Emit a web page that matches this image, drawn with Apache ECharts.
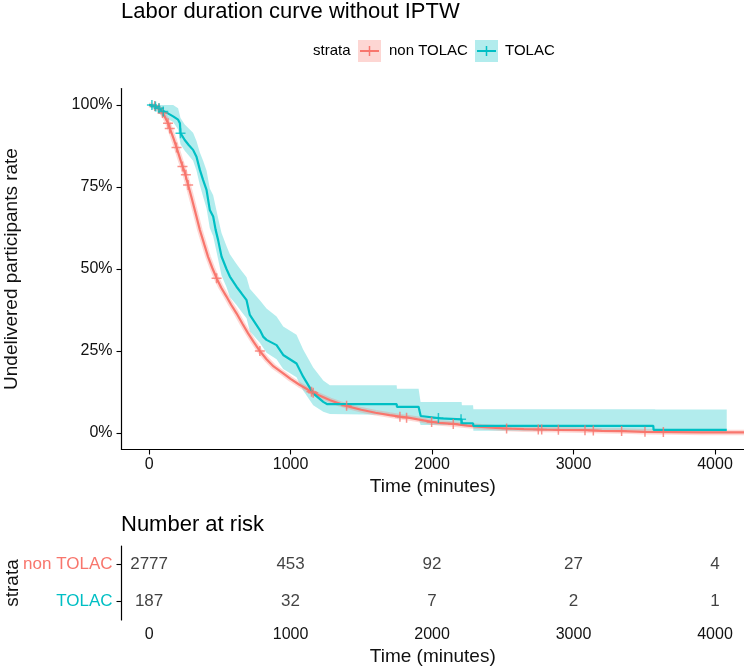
<!DOCTYPE html>
<html>
<head>
<meta charset="utf-8">
<script src="https://cdn.jsdelivr.net/npm/echarts@6/dist/echarts.min.js"></script>
<style>
    html, body { margin: 0; padding: 0; background: #fff; }
    #main { width: 744px; height: 668px; }
</style>
</head>
<body>
<div id="main"></div>
<script>
// survival curves, [time, rate]
var nonTolacCurve = [
    [0, 1.000], [40, 0.997], [80, 0.985], [110, 0.965], [134, 0.944], [150, 0.925],
    [175, 0.895], [200, 0.862], [225, 0.828], [250, 0.797], [276, 0.756], [300, 0.718],
    [330, 0.668], [359, 0.619], [390, 0.575], [417, 0.537], [447, 0.503], [477, 0.472],
    [510, 0.443], [547, 0.416], [580, 0.391], [618, 0.365], [660, 0.333], [700, 0.304],
    [740, 0.277], [783, 0.250], [830, 0.225], [880, 0.203], [948, 0.182], [1000, 0.165],
    [1060, 0.148], [1100, 0.138], [1148, 0.126], [1200, 0.115], [1280, 0.100], [1350, 0.089],
    [1419, 0.080], [1500, 0.071], [1600, 0.062], [1700, 0.055], [1773, 0.050], [1832, 0.047],
    [1900, 0.042], [1997, 0.034], [2050, 0.031], [2150, 0.028], [2250, 0.023], [2350, 0.019],
    [2450, 0.016], [2527, 0.014], [2650, 0.012], [2763, 0.011], [2900, 0.010], [3081, 0.009],
    [3200, 0.007], [3340, 0.006], [3505, 0.004], [3700, 0.003], [3900, 0.002], [4205, 0.002]
];
var tolacCurve = [
    [0, 1.000], [40, 0.995], [90, 0.984], [130, 0.975], [170, 0.965], [205, 0.955],
    [218, 0.944], [222, 0.914], [252, 0.893], [280, 0.878], [311, 0.863], [335, 0.842],
    [359, 0.802], [382, 0.771], [406, 0.741], [429, 0.680], [453, 0.660], [470, 0.620],
    [488, 0.588], [512, 0.538], [547, 0.500], [571, 0.477], [618, 0.446], [653, 0.426],
    [689, 0.405], [712, 0.360], [783, 0.314], [806, 0.294], [830, 0.284], [901, 0.268],
    [948, 0.238], [1042, 0.212], [1089, 0.172], [1160, 0.121], [1231, 0.095], [1260, 0.088],
    [1750, 0.088], [1752, 0.080], [1905, 0.080], [1910, 0.070], [1917, 0.070], [1920, 0.052],
    [2060, 0.045], [2209, 0.042], [2211, 0.030], [2290, 0.030], [2292, 0.022], [3564, 0.022],
    [3566, 0.010], [4083, 0.010]
];

// TOLAC confidence band
var tolacBandTime = [0, 20, 100, 170, 205, 222, 252, 311, 335, 359, 382, 406, 429, 453, 488,
    512, 547, 571, 618, 653, 689, 712, 783, 830, 901, 948, 1042, 1089, 1160, 1231, 1278,
    1750, 1752, 1905, 1919, 2209, 2211, 2290, 2292, 3576, 3578, 4083];
var tolacBandLower = [1.0, 0.99, 0.965, 0.948, 0.925, 0.88, 0.86, 0.83, 0.80, 0.755, 0.72, 0.685,
    0.625, 0.60, 0.53, 0.48, 0.445, 0.415, 0.39, 0.37, 0.35, 0.31, 0.275, 0.245, 0.225, 0.195,
    0.17, 0.13, 0.085, 0.065, 0.058, 0.055, 0.045, 0.045, 0.025, 0.025, 0.022, 0.022, 0.007,
    0.007, 0.002, 0.0];
var tolacBandUpper = [1.0, 1.0, 1.0, 1.0, 0.99, 0.96, 0.94, 0.915, 0.89, 0.855, 0.83, 0.80,
    0.745, 0.725, 0.655, 0.61, 0.57, 0.545, 0.515, 0.495, 0.475, 0.44, 0.405, 0.38, 0.355, 0.325,
    0.30, 0.255, 0.20, 0.16, 0.146, 0.146, 0.135, 0.135, 0.095, 0.095, 0.085, 0.085, 0.073,
    0.073, 0.072, 0.072];

// censor marks
var nonTolacCensor = [
    [40, 0.997], [70, 0.99], [95, 0.975], [134, 0.944], [146, 0.928], [194, 0.870],
    [236, 0.812], [260, 0.787], [276, 0.756], [477, 0.472], [783, 0.250], [1148, 0.126],
    [1160, 0.123], [1396, 0.083], [1773, 0.050], [1820, 0.047], [1997, 0.034], [2150, 0.028],
    [2527, 0.014], [2751, 0.011], [2775, 0.011], [2893, 0.010], [3081, 0.009], [3140, 0.008],
    [3340, 0.006], [3505, 0.004], [3635, 0.003]
];
var tolacCensor = [
    [20, 1.0], [45, 0.995], [70, 0.99], [100, 0.98], [222, 0.914], [2045, 0.046], [2205, 0.042]
];

// number at risk
var riskTimes = [0, 1000, 2000, 3000, 4000];
var riskNonTolac = [2777, 453, 92, 27, 4];
var riskTolac = [187, 32, 7, 2, 1];
var strata = ['TOLAC', 'non TOLAC'];

var xTicks = [0, 1000, 2000, 3000, 4000];
var yTicks = [0, 0.25, 0.5, 0.75, 1];

var RED = '#F8766D';
var TEAL = '#00BFC4';
var FONT = 'Liberation Sans, Arial, sans-serif';

function renderBand(params, api) {
    if (params.dataIndex !== 0) return null;
    var pts = [];
    var i;
    for (i = 0; i < tolacBandTime.length; i++) {
        pts.push(api.coord([tolacBandTime[i], tolacBandUpper[i]]));
    }
    for (i = tolacBandTime.length - 1; i >= 0; i--) {
        pts.push(api.coord([tolacBandTime[i], tolacBandLower[i]]));
    }
    return { type: 'polygon', shape: { points: pts }, style: { fill: 'rgba(0,191,196,0.3)' } };
}

function xAxisFor(gridIndex) {
    return {
        type: 'value', gridIndex: gridIndex, min: -195, max: 4205,
        name: 'Time (minutes)', nameLocation: 'middle', nameGap: 27,
        nameTextStyle: { fontSize: 19, color: '#111', fontFamily: FONT },
        splitLine: { show: false },
        axisLine: { onZero: false, lineStyle: { color: '#000', width: 1.2 } },
        axisTick: { customValues: xTicks, length: 5, lineStyle: { color: '#000', width: 1.1 } },
        axisLabel: {
            customValues: xTicks, margin: 7, fontSize: 16, color: '#111', fontFamily: FONT,
            formatter: function (v) { return String(v); }
        }
    };
}

var plusSymbol = 'path://M0,5L10,5M5,0L5,10';

var option = {
    animation: false,
    backgroundColor: '#fff',
    title: [
        { text: 'Labor duration curve without IPTW', left: 121, top: 1, padding: 0,
          textStyle: { fontSize: 22, fontWeight: 'normal', color: '#000', fontFamily: FONT } },
        { text: 'Number at risk', left: 121, top: 514, padding: 0,
          textStyle: { fontSize: 22, fontWeight: 'normal', color: '#000', fontFamily: FONT } }
    ],
    graphic: [
        { type: 'text', left: 313, top: 43, style: { text: 'strata', fontSize: 15, fill: '#000', fontFamily: FONT } },
        { type: 'rect', shape: { x: 358, y: 40, width: 23, height: 22 }, style: { fill: 'rgba(248,118,109,0.3)' } },
        { type: 'line', shape: { x1: 360, y1: 51, x2: 379, y2: 51 }, style: { stroke: RED, lineWidth: 2 } },
        { type: 'line', shape: { x1: 369.5, y1: 46, x2: 369.5, y2: 56 }, style: { stroke: RED, lineWidth: 1.5 } },
        { type: 'text', left: 389, top: 43, style: { text: 'non TOLAC', fontSize: 15, fill: '#000', fontFamily: FONT } },
        { type: 'rect', shape: { x: 475, y: 40, width: 23, height: 22 }, style: { fill: 'rgba(0,191,196,0.3)' } },
        { type: 'line', shape: { x1: 477, y1: 51, x2: 496, y2: 51 }, style: { stroke: TEAL, lineWidth: 2 } },
        { type: 'line', shape: { x1: 486.5, y1: 46, x2: 486.5, y2: 56 }, style: { stroke: TEAL, lineWidth: 1.5 } },
        { type: 'text', left: 505, top: 43, style: { text: 'TOLAC', fontSize: 15, fill: '#000', fontFamily: FONT } }
    ],
    grid: [
        { left: 121.5, right: 0, top: 88.5, bottom: 218.5, outerBoundsMode: 'none', containLabel: false },
        { left: 121.5, right: 0, top: 546, bottom: 48, outerBoundsMode: 'none', containLabel: false }
    ],
    xAxis: [xAxisFor(0), xAxisFor(1)],
    yAxis: [
        {
            type: 'value', gridIndex: 0, min: -0.05, max: 1.05,
            name: 'Undelivered participants rate', nameLocation: 'middle', nameGap: 100,
            nameTextStyle: { fontSize: 19, color: '#111', fontFamily: FONT },
            splitLine: { show: false },
            axisLine: { onZero: false, lineStyle: { color: '#000', width: 1.2 } },
            axisTick: { customValues: yTicks, length: 5, lineStyle: { color: '#000', width: 1.1 } },
            axisLabel: {
                customValues: yTicks, margin: 9, fontSize: 16, color: '#111', fontFamily: FONT,
                formatter: function (v) { return Math.round(v * 100) + '%'; }
            }
        },
        {
            type: 'category', gridIndex: 1, data: strata,
            name: 'strata', nameLocation: 'middle', nameGap: 99, nameMoveOverlap: false,
            nameTextStyle: { fontSize: 19, color: '#111', fontFamily: FONT },
            axisLine: { onZero: false, lineStyle: { color: '#000', width: 1.2 } },
            axisTick: { show: true, alignWithLabel: true, length: 5, lineStyle: { color: '#000', width: 1.1 } },
            axisLabel: {
                margin: 9, fontSize: 17, fontFamily: FONT,
                color: function (v) { return v === 'TOLAC' ? TEAL : RED; }
            }
        }
    ],
    series: [
        {
            type: 'custom', xAxisIndex: 0, yAxisIndex: 0, silent: true, z: 1,
            renderItem: renderBand,
            data: tolacBandTime.map(function (t, i) { return [t, tolacBandLower[i], tolacBandUpper[i]]; }),
            encode: { x: 0, y: [1, 2] }
        },
        {
            type: 'line', showSymbol: false, silent: true, z: 2,
            data: nonTolacCurve,
            lineStyle: { color: 'rgba(248,118,109,0.28)', width: 5.5 }
        },
        {
            type: 'line', showSymbol: false, z: 3,
            data: nonTolacCurve,
            lineStyle: { color: RED, width: 2.2 }
        },
        {
            type: 'line', showSymbol: false, z: 4,
            data: tolacCurve,
            lineStyle: { color: TEAL, width: 2.2 }
        },
        {
            type: 'scatter', z: 5, symbol: plusSymbol, symbolSize: 10,
            data: nonTolacCensor,
            itemStyle: { color: 'rgba(0,0,0,0)', borderColor: RED, borderWidth: 1.5 }
        },
        {
            type: 'scatter', z: 6, symbol: plusSymbol, symbolSize: 10,
            data: tolacCensor,
            itemStyle: { color: 'rgba(0,0,0,0)', borderColor: TEAL, borderWidth: 1.5 }
        },
        {
            type: 'scatter', xAxisIndex: 1, yAxisIndex: 1, symbolSize: 1,
            itemStyle: { color: 'rgba(0,0,0,0)' },
            data: riskTimes.map(function (t, i) { return [t, 'non TOLAC', riskNonTolac[i]]; }),
            label: { show: true, position: 'inside', fontSize: 17, color: '#111', fontFamily: FONT,
                     formatter: function (p) { return p.value[2]; } }
        },
        {
            type: 'scatter', xAxisIndex: 1, yAxisIndex: 1, symbolSize: 1,
            itemStyle: { color: 'rgba(0,0,0,0)' },
            data: riskTimes.map(function (t, i) { return [t, 'TOLAC', riskTolac[i]]; }),
            label: { show: true, position: 'inside', fontSize: 17, color: '#111', fontFamily: FONT,
                     formatter: function (p) { return p.value[2]; } }
        }
    ]
};

var myChart = echarts.init(document.getElementById('main'));
myChart.setOption(option);
</script>
</body>
</html>
